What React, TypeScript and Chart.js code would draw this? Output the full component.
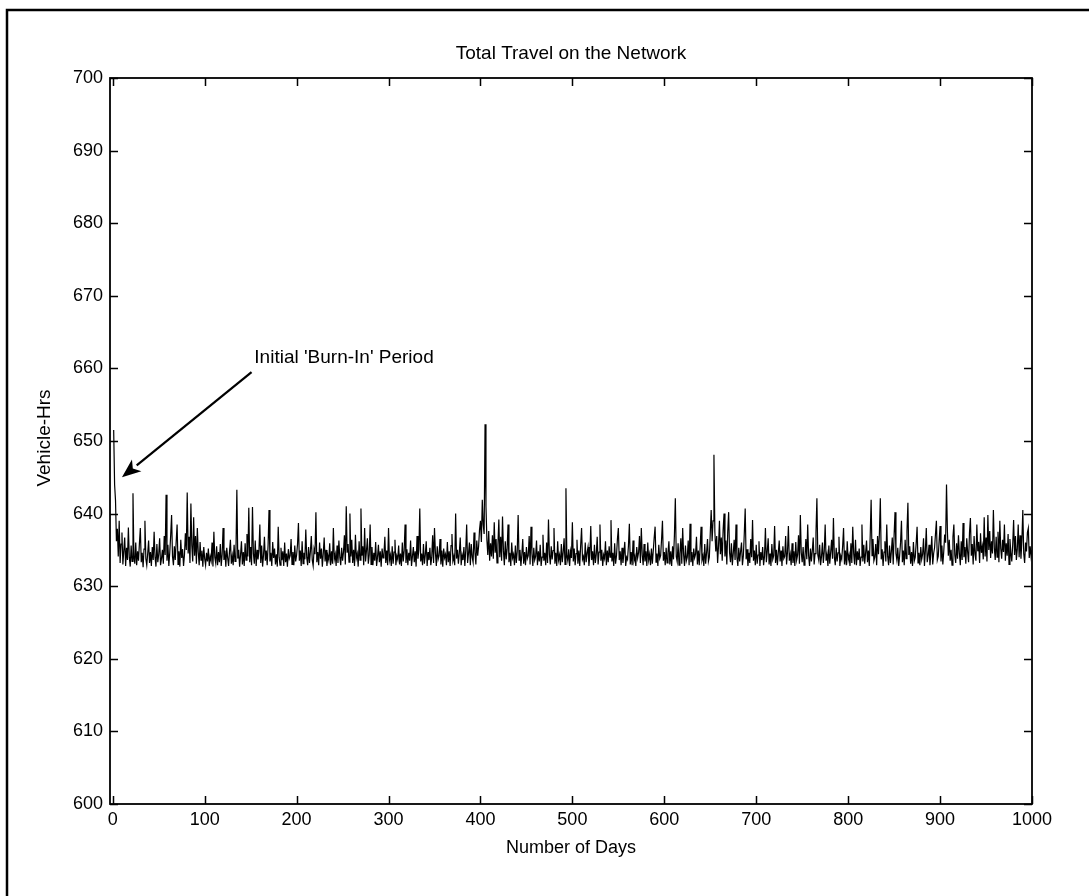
import React, { useEffect, useRef } from "react";
import { Chart, registerables } from "chart.js";

Chart.register(...registerables);

const FONT = "'Liberation Sans', Arial, Helvetica, sans-serif";

const TITLE = "Total Travel on the Network";
const X_LABEL = "Number of Days";
const Y_LABEL = "Vehicle-Hrs";
const ANNOTATION = "Initial 'Burn-In' Period";

const X_TICKS = [0, 100, 200, 300, 400, 500, 600, 700, 800, 900, 1000];
const Y_TICKS = [600, 610, 620, 630, 640, 650, 660, 670, 680, 690, 700];
const X_RANGE = [-3, 1000];
const Y_RANGE = [600, 700];

// arrow: from text anchor to the burn-in spike (data coordinates)
const ARROW_FROM = { x: 151, y: 659.5 };
const ARROW_TO = { x: 10, y: 645.0 };
const ANNOTATION_POS = { x: 154, y: 661.4 };

// total vehicle-hours per day, days 1..1000
const VEHICLE_HRS = [
  651.5, 644.0, 641.8, 636.2, 637.9, 634.1, 639.0, 633.2, 635.8, 637.4, 633.0, 634.9, 636.7, 632.8, 635.3, 633.6, 638.1, 634.0, 632.7, 635.6,
  633.4, 642.8, 634.2, 633.1, 636.0, 632.9, 634.8, 633.5, 635.9, 638.0, 633.3, 634.6, 632.6, 635.1, 639.0, 633.8, 632.9, 634.5, 636.3, 633.2,
  634.7, 632.8, 635.4, 633.6, 637.5, 634.0, 632.7, 635.8, 633.3, 634.4, 636.6, 632.9, 633.8, 635.0, 633.1, 636.9, 634.3, 642.6, 633.5, 635.7,
  632.8, 634.6, 637.0, 639.8, 634.1, 632.9, 635.5, 633.6, 636.2, 638.5, 633.0, 634.8, 632.7, 636.4, 633.9, 635.1, 632.8, 634.3, 637.3, 635.0,
  642.9, 634.5, 636.8, 633.2, 641.4, 635.6, 633.4, 639.5, 634.2, 636.9, 633.1, 638.0, 634.7, 632.9, 636.1, 633.6, 634.9, 632.7, 635.4, 633.8,
  632.9, 634.6, 633.4, 635.2, 632.8, 634.1, 633.5, 636.0, 632.7, 637.5, 634.0, 633.2, 635.5, 632.9, 634.7, 633.3, 635.8, 632.8, 634.4, 638.0,
  633.6, 634.9, 632.7, 635.3, 633.9, 632.8, 634.8, 636.4, 633.1, 634.2, 632.9, 635.7, 633.4, 634.6, 643.3, 633.8, 635.0, 632.7, 634.3, 636.2,
  633.0, 634.7, 632.8, 635.9, 633.6, 637.2, 634.1, 640.8, 633.3, 635.4, 632.9, 640.9, 634.5, 633.1, 636.3, 632.8, 635.0, 633.7, 634.8, 638.5,
  633.2, 635.6, 632.7, 634.3, 636.8, 633.5, 634.9, 632.9, 635.7, 640.5, 633.4, 634.6, 632.8, 636.1, 633.9, 635.2, 633.0, 634.4, 632.7, 638.2,
  634.0, 632.9, 635.3, 633.6, 634.8, 632.8, 636.0, 633.3, 634.5, 632.7, 635.1, 633.8, 634.2, 636.5, 633.0, 634.7, 632.9, 635.6, 633.4, 634.3,
  635.8, 638.7, 633.5, 634.9, 632.8, 636.2, 633.1, 634.6, 633.7, 637.8, 634.0, 632.9, 635.4, 633.2, 634.8, 636.9, 633.6, 632.8, 635.1, 634.4,
  640.2, 633.3, 634.7, 632.9, 636.0, 633.8, 635.2, 632.7, 634.5, 636.7, 633.4, 635.0, 632.8, 634.2, 633.6, 635.9, 632.9, 634.8, 633.1, 638.0,
  633.7, 634.4, 632.8, 635.6, 633.2, 636.3, 634.0, 632.9, 635.3, 633.5, 634.7, 637.0, 633.0, 641.0, 634.6, 635.8, 633.3, 640.0, 634.1, 636.4,
  633.2, 635.0, 632.8, 637.1, 633.9, 634.5, 632.7, 636.2, 633.6, 640.7, 634.2, 635.5, 632.9, 638.0, 633.4, 634.9, 636.6, 633.1, 634.3, 638.5,
  633.0, 635.4, 632.9, 634.6, 633.5, 636.1, 632.8, 634.0, 635.7, 633.3, 634.8, 632.7, 635.2, 633.9, 634.4, 636.8, 633.2, 634.9, 632.9, 638.0,
  633.6, 634.3, 632.8, 635.5, 633.1, 634.7, 636.4, 632.9, 634.2, 633.7, 635.6, 633.0, 634.5, 632.8, 636.0, 633.4, 634.9, 638.5, 633.2, 635.1,
  632.9, 634.6, 633.5, 636.3, 632.8, 634.1, 635.4, 633.3, 634.8, 632.7, 636.9, 633.8, 635.0, 640.7, 633.4, 634.5, 632.9, 635.8, 633.1, 634.3,
  636.2, 632.8, 634.7, 633.6, 635.3, 632.9, 634.0, 637.0, 633.2, 638.0, 634.6, 632.8, 635.5, 633.7, 634.2, 636.5, 633.0, 634.9, 632.7, 635.2,
  633.9, 634.4, 632.9, 636.1, 633.3, 634.8, 632.8, 635.6, 637.2, 633.5, 634.1, 632.9, 640.0, 633.8, 635.0, 633.1, 634.6, 636.7, 632.9, 634.3,
  633.6, 635.4, 632.8, 634.9, 638.5, 633.2, 634.5, 636.0, 632.9, 635.8, 634.0, 633.3, 637.4, 634.7, 633.0, 636.3, 634.2, 635.5, 637.8, 639.0,
  636.1, 641.9, 638.5, 637.2, 652.3, 641.0, 636.4, 634.3, 637.6, 633.5, 635.9, 634.1, 637.0, 633.8, 638.8, 634.6, 636.5, 633.2, 635.7, 639.2,
  634.0, 636.8, 633.5, 639.6, 634.9, 632.9, 636.2, 633.7, 635.1, 638.5, 633.3, 634.6, 632.8, 636.0, 633.9, 634.4, 632.9, 635.6, 633.2, 634.8,
  639.8, 633.6, 635.0, 632.8, 634.3, 636.5, 633.1, 634.7, 632.9, 635.4, 633.8, 634.2, 636.9, 633.0, 638.2, 634.5, 632.8, 635.3, 633.6, 634.1,
  636.3, 632.9, 634.8, 633.4, 635.7, 632.8, 634.0, 637.1, 633.5, 634.6, 632.9, 636.0, 633.2, 639.2, 634.4, 633.0, 635.5, 633.7, 634.9, 638.0,
  633.1, 634.6, 632.8, 636.2, 633.6, 634.3, 632.9, 635.8, 633.3, 634.7, 636.6, 633.0, 643.5, 634.2, 633.5, 635.1, 632.8, 634.8, 633.9, 638.8,
  633.4, 635.2, 632.9, 634.5, 636.4, 633.1, 634.9, 632.8, 635.6, 638.0, 633.7, 634.1, 632.9, 636.0, 633.3, 634.6, 635.4, 632.8, 634.2, 638.3,
  633.6, 634.8, 632.9, 635.7, 633.2, 634.4, 636.8, 633.0, 634.7, 638.5, 633.5, 635.0, 632.8, 634.3, 633.8, 636.2, 632.9, 634.9, 633.3, 635.5,
  634.0, 639.1, 633.4, 634.6, 632.8, 635.9, 633.1, 634.2, 636.5, 638.0, 633.6, 634.8, 632.9, 635.3, 633.2, 634.5, 636.1, 632.8, 634.0, 633.7,
  635.6, 638.6, 633.0, 634.7, 632.9, 636.3, 633.5, 634.1, 632.8, 635.4, 633.9, 634.6, 636.9, 633.2, 638.0, 634.3, 632.9, 635.8, 633.4, 634.8,
  632.8, 636.0, 633.6, 634.4, 632.9, 635.2, 633.1, 634.9, 636.7, 638.2, 633.3, 634.5, 632.8, 635.7, 633.8, 634.2, 636.4, 639.0, 633.5, 634.7,
  632.9, 635.3, 633.2, 634.6, 636.2, 633.0, 634.8, 632.8, 635.5, 633.7, 637.0, 642.1, 634.1, 633.4, 635.9, 632.9, 634.5, 636.6, 633.1, 638.0,
  634.3, 632.8, 635.6, 633.5, 634.0, 636.3, 632.9, 638.6, 633.3, 634.7, 632.8, 635.2, 633.9, 634.4, 636.8, 633.0, 634.9, 632.9, 635.4, 638.2,
  633.6, 634.2, 632.8, 635.8, 633.1, 634.6, 636.5, 633.4, 634.0, 637.3, 640.5, 636.2, 639.0, 648.1, 637.5, 634.8, 636.9, 633.2, 635.6, 639.0,
  634.4, 636.7, 633.5, 637.8, 640.0, 634.1, 636.3, 633.0, 637.5, 640.2, 634.6, 633.3, 635.9, 632.9, 634.5, 636.4, 633.6, 638.5, 634.0, 632.8,
  635.3, 633.4, 634.8, 636.0, 632.9, 634.2, 637.2, 640.7, 633.7, 635.1, 632.8, 634.6, 633.2, 636.5, 634.0, 639.1, 633.5, 634.9, 632.9, 635.7,
  633.1, 634.3, 636.2, 632.8, 634.7, 633.6, 635.4, 632.9, 634.1, 638.0, 633.3, 634.8, 636.6, 633.0, 634.5, 632.8, 635.8, 633.7, 634.2, 638.3,
  633.2, 635.0, 632.9, 634.6, 636.3, 633.4, 634.9, 632.8, 635.5, 633.8, 634.1, 636.9, 633.0, 634.7, 638.3, 633.5, 634.4, 632.9, 635.9, 633.2,
  634.8, 632.8, 636.1, 633.6, 634.3, 637.0, 633.1, 639.8, 634.6, 633.3, 635.4, 632.9, 634.0, 636.5, 633.7, 638.5, 634.2, 632.8, 635.2, 633.4,
  634.9, 636.7, 633.0, 634.5, 637.4, 642.1, 634.3, 633.6, 635.7, 632.9, 634.1, 636.0, 633.2, 634.8, 638.5, 633.5, 634.4, 632.8, 635.6, 633.1,
  634.7, 636.4, 633.8, 639.4, 634.0, 632.9, 635.3, 633.4, 634.6, 636.8, 632.8, 634.2, 633.7, 635.5, 638.0, 633.0, 634.9, 632.9, 636.2, 633.6,
  634.3, 632.8, 635.9, 633.2, 638.2, 634.5, 633.0, 636.4, 632.9, 634.8, 633.6, 635.2, 632.8, 634.0, 638.5, 633.4, 635.7, 633.1, 634.6, 636.3,
  633.3, 634.9, 632.8, 637.0, 641.9, 634.2, 636.5, 633.5, 634.0, 635.8, 632.9, 636.9, 634.4, 637.3, 642.1, 633.7, 635.1, 632.8, 634.7, 636.2,
  633.4, 638.5, 634.1, 632.9, 635.6, 633.2, 634.8, 636.7, 633.0, 637.1, 640.2, 634.5, 633.6, 635.3, 632.8, 634.2, 636.0, 639.0, 633.3, 634.9,
  632.9, 636.4, 633.8, 637.6, 641.5, 634.3, 635.5, 633.1, 634.7, 632.8, 636.1, 633.5, 634.0, 635.9, 638.2, 633.2, 634.6, 632.9, 635.4, 633.7,
  634.4, 636.6, 632.8, 634.9, 638.0, 633.3, 634.2, 635.7, 632.9, 634.6, 636.9, 633.0, 634.5, 635.3, 637.2, 639.0, 633.6, 634.1, 636.3, 638.3,
  633.4, 635.6, 633.0, 634.8, 637.1, 636.0, 644.0, 637.5, 634.2, 636.4, 633.5, 635.0, 632.9, 636.8, 638.5, 634.3, 633.2, 635.9, 633.8, 637.0,
  634.5, 632.9, 636.2, 633.6, 638.7, 634.0, 635.4, 633.1, 636.6, 634.7, 633.3, 637.4, 639.4, 634.2, 635.8, 633.0, 636.9, 634.4, 633.5, 638.5,
  634.8, 636.1, 633.2, 637.3, 634.6, 635.5, 633.7, 639.5, 634.1, 636.7, 633.4, 639.8, 635.0, 637.6, 633.9, 636.2, 634.5, 640.5, 635.3, 633.6,
  636.8, 634.0, 637.5, 633.3, 639.0, 635.2, 633.8, 636.4, 634.7, 638.5, 633.5, 635.9, 634.2, 637.2, 633.0, 636.5, 634.6, 633.4, 635.7, 639.1,
  634.3, 636.9, 633.6, 635.1, 638.5, 634.0, 637.0, 633.8, 636.3, 640.5, 634.5, 633.2, 636.0, 634.8, 637.4, 638.0, 633.9, 635.5, 634.1, 635.0,
];

const framePlugin = {
  id: "matlabFrame",
  afterDraw(chart: any) {
    const { ctx, chartArea: a, scales } = chart;
    const xs = scales.x;
    const ys = scales.y;
    ctx.save();
    ctx.strokeStyle = "#000";
    ctx.fillStyle = "#000";

    // outer figure border
    ctx.lineWidth = 2.5;
    ctx.beginPath();
    ctx.moveTo(7, chart.height);
    ctx.lineTo(7, 10);
    ctx.lineTo(chart.width, 10);
    ctx.stroke();

    // axes box
    ctx.lineWidth = 1.8;
    ctx.strokeRect(a.left, a.top, a.right - a.left, a.bottom - a.top);

    // inward tick marks on all sides
    const TL = 8;
    ctx.lineWidth = 1.5;
    ctx.beginPath();
    X_TICKS.forEach((v) => {
      const px = Math.round(xs.getPixelForValue(v)) + 0.5;
      ctx.moveTo(px, a.bottom);
      ctx.lineTo(px, a.bottom - TL);
      ctx.moveTo(px, a.top);
      ctx.lineTo(px, a.top + TL);
    });
    Y_TICKS.forEach((v) => {
      const py = Math.round(ys.getPixelForValue(v)) + 0.5;
      ctx.moveTo(a.left, py);
      ctx.lineTo(a.left + TL, py);
      ctx.moveTo(a.right, py);
      ctx.lineTo(a.right - TL, py);
    });
    ctx.stroke();

    const cx = (a.left + a.right) / 2;
    ctx.textAlign = "center";
    ctx.textBaseline = "middle";

    // title
    ctx.font = `19px ${FONT}`;
    ctx.fillText(TITLE, cx, a.top - 24);

    // x label
    ctx.font = `18px ${FONT}`;
    ctx.fillText(X_LABEL, cx, a.bottom + 44);

    // y label
    ctx.save();
    ctx.translate(45, (a.top + a.bottom) / 2 - 3);
    ctx.rotate(-Math.PI / 2);
    ctx.font = `19px ${FONT}`;
    ctx.fillText(Y_LABEL, 0, 0);
    ctx.restore();

    // annotation text
    ctx.font = `19px ${FONT}`;
    ctx.textAlign = "left";
    ctx.fillText(ANNOTATION, xs.getPixelForValue(ANNOTATION_POS.x), ys.getPixelForValue(ANNOTATION_POS.y));

    // arrow
    const x0 = xs.getPixelForValue(ARROW_FROM.x);
    const y0 = ys.getPixelForValue(ARROW_FROM.y);
    const x1 = xs.getPixelForValue(ARROW_TO.x);
    const y1 = ys.getPixelForValue(ARROW_TO.y);
    const ang = Math.atan2(y1 - y0, x1 - x0);
    const HL = 19;
    const HW = 7.5;
    const bx = x1 - HL * Math.cos(ang);
    const by = y1 - HL * Math.sin(ang);
    ctx.lineWidth = 2.2;
    ctx.beginPath();
    ctx.moveTo(x0, y0);
    ctx.lineTo(bx, by);
    ctx.stroke();
    ctx.beginPath();
    ctx.moveTo(x1, y1);
    ctx.lineTo(bx + HW * Math.sin(ang), by - HW * Math.cos(ang));
    ctx.lineTo(bx + 5 * Math.cos(ang), by + 5 * Math.sin(ang));
    ctx.lineTo(bx - HW * Math.sin(ang), by + HW * Math.cos(ang));
    ctx.closePath();
    ctx.fill();

    ctx.restore();
  },
};

export default function App() {
  const ref = useRef<HTMLCanvasElement | null>(null);

  useEffect(() => {
    if (!ref.current) return;
    const points = VEHICLE_HRS.map((v, i) => ({ x: i + 1, y: v }));
    const chart = new Chart(ref.current, {
      type: "line",
      data: {
        datasets: [
          {
            data: points,
            borderColor: "#000",
            borderWidth: 1.2,
            pointRadius: 0,
            fill: false,
            tension: 0,
          },
        ],
      },
      options: {
        responsive: false,
        animation: false,
        devicePixelRatio: 1,
        layout: { padding: { left: 0, top: 78, right: 57, bottom: 0 } },
        plugins: {
          legend: { display: false },
          title: { display: false },
          tooltip: { enabled: false },
        },
        scales: {
          x: {
            type: "linear",
            min: X_RANGE[0],
            max: X_RANGE[1],
            grid: { display: false, drawTicks: false },
            border: { display: false },
            afterBuildTicks: (axis: any) => {
              axis.ticks = X_TICKS.map((v) => ({ value: v }));
            },
            afterFit: (axis: any) => {
              axis.height = 92;
            },
            ticks: {
              color: "#000",
              font: { family: FONT, size: 18 },
              padding: 5,
              maxRotation: 0,
              autoSkip: false,
              callback: (v: any) => String(v),
            },
          },
          y: {
            type: "linear",
            min: Y_RANGE[0],
            max: Y_RANGE[1],
            grid: { display: false, drawTicks: false },
            border: { display: false },
            afterBuildTicks: (axis: any) => {
              axis.ticks = Y_TICKS.map((v) => ({ value: v }));
            },
            afterFit: (axis: any) => {
              axis.width = 110;
            },
            ticks: {
              color: "#000",
              font: { family: FONT, size: 18 },
              padding: 7,
              autoSkip: false,
              callback: (v: any) => String(v),
            },
          },
        },
      },
      plugins: [framePlugin],
    });
    return () => chart.destroy();
  }, []);

  return (
    <div style={{ position: "absolute", left: 0, top: 0, width: 1089, height: 896, background: "#fff" }}>
      <canvas ref={ref} width={1089} height={896} style={{ display: "block" }} />
    </div>
  );
}
